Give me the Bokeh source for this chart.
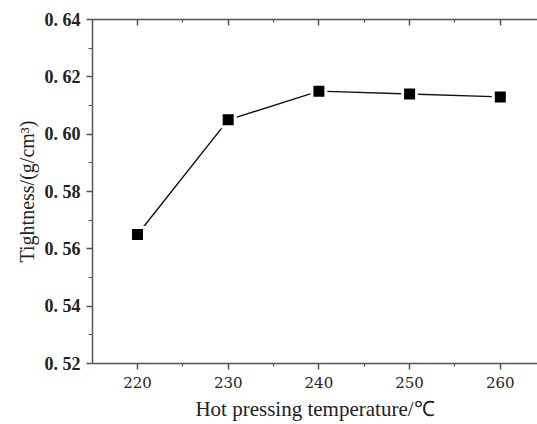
from bokeh.plotting import figure
from bokeh.models import (Range1d, FixedTicker, LinearAxis, CustomJSTickFormatter)
from bokeh.embed import file_html
from bokeh.resources import INLINE

temperature = [220, 230, 240, 250, 260]
tightness = [0.565, 0.605, 0.615, 0.614, 0.613]
x_ticks = [220, 230, 240, 250, 260]
x_minor = [215, 225, 235, 245, 255, 265]
y_ticks = [0.52, 0.54, 0.56, 0.58, 0.60, 0.62, 0.64]
y_minor = [0.53, 0.55, 0.57, 0.59, 0.61, 0.63]

AX = "#555555"

p = figure(width=537, height=424, output_backend="svg", toolbar_location=None,
           x_range=Range1d(215.04, 264.1), y_range=Range1d(0.52, 0.64),
           x_axis_location=None, y_axis_location=None,
           min_border_left=92, min_border_right=0, min_border_top=19, min_border_bottom=61)
p.outline_line_color = None
p.xgrid.visible = False
p.ygrid.visible = False
p.background_fill_color = "white"

xb = LinearAxis(ticker=FixedTicker(ticks=x_ticks, minor_ticks=x_minor),
                axis_label="Hot pressing temperature/\u2103")
yl = LinearAxis(ticker=FixedTicker(ticks=y_ticks, minor_ticks=y_minor),
                axis_label="Tightness/(g/cm\u00b3)",
                formatter=CustomJSTickFormatter(code="return tick.toFixed(2).replace('.', '. ');"))
xt = LinearAxis(ticker=FixedTicker(ticks=x_ticks, minor_ticks=x_minor),
                formatter=CustomJSTickFormatter(code="return '';"))

for ax in (xb, yl, xt):
    ax.axis_line_color = AX
    ax.axis_line_width = 1.5
    ax.major_tick_line_color = AX
    ax.minor_tick_line_color = AX
    ax.major_tick_line_width = 1.5
    ax.minor_tick_line_width = 1.2
    ax.major_tick_in = 0
    ax.major_tick_out = 6
    ax.minor_tick_in = 0
    ax.minor_tick_out = 3
    ax.major_label_text_color = "#222222"
    ax.axis_label_text_color = "#222222"
    ax.axis_label_text_font_style = "normal"

xt.major_tick_in = 6
xt.major_tick_out = 0
xt.minor_tick_in = 3
xt.minor_tick_out = 0
xt.major_label_text_font_size = "0px"
xt.major_label_standoff = 0

xb.major_label_text_font = "DejaVu Serif"
xb.major_label_text_font_size = "15px"
xb.major_label_standoff = 7
xb.axis_label_text_font = "Liberation Serif"
xb.axis_label_text_font_size = "21px"
xb.axis_label_standoff = 6

yl.major_label_text_font = "Liberation Serif"
yl.major_label_text_font_style = "bold"
yl.major_label_text_font_size = "18px"
yl.major_label_standoff = 6
yl.minor_tick_out = 4
yl.axis_label_text_font = "Liberation Serif"
yl.axis_label_text_font_size = "20px"
yl.axis_label_standoff = 4

p.add_layout(xb, "below")
p.add_layout(yl, "left")
p.add_layout(xt, "above")

p.line(temperature, tightness, line_color="#111111", line_width=1.4)
p.scatter(temperature, tightness, marker="square", size=17, fill_color="white", line_color=None)
p.scatter(temperature, tightness, marker="square", size=11, fill_color="black", line_color=None)

open("out.html", "w").write(file_html(p, INLINE))
